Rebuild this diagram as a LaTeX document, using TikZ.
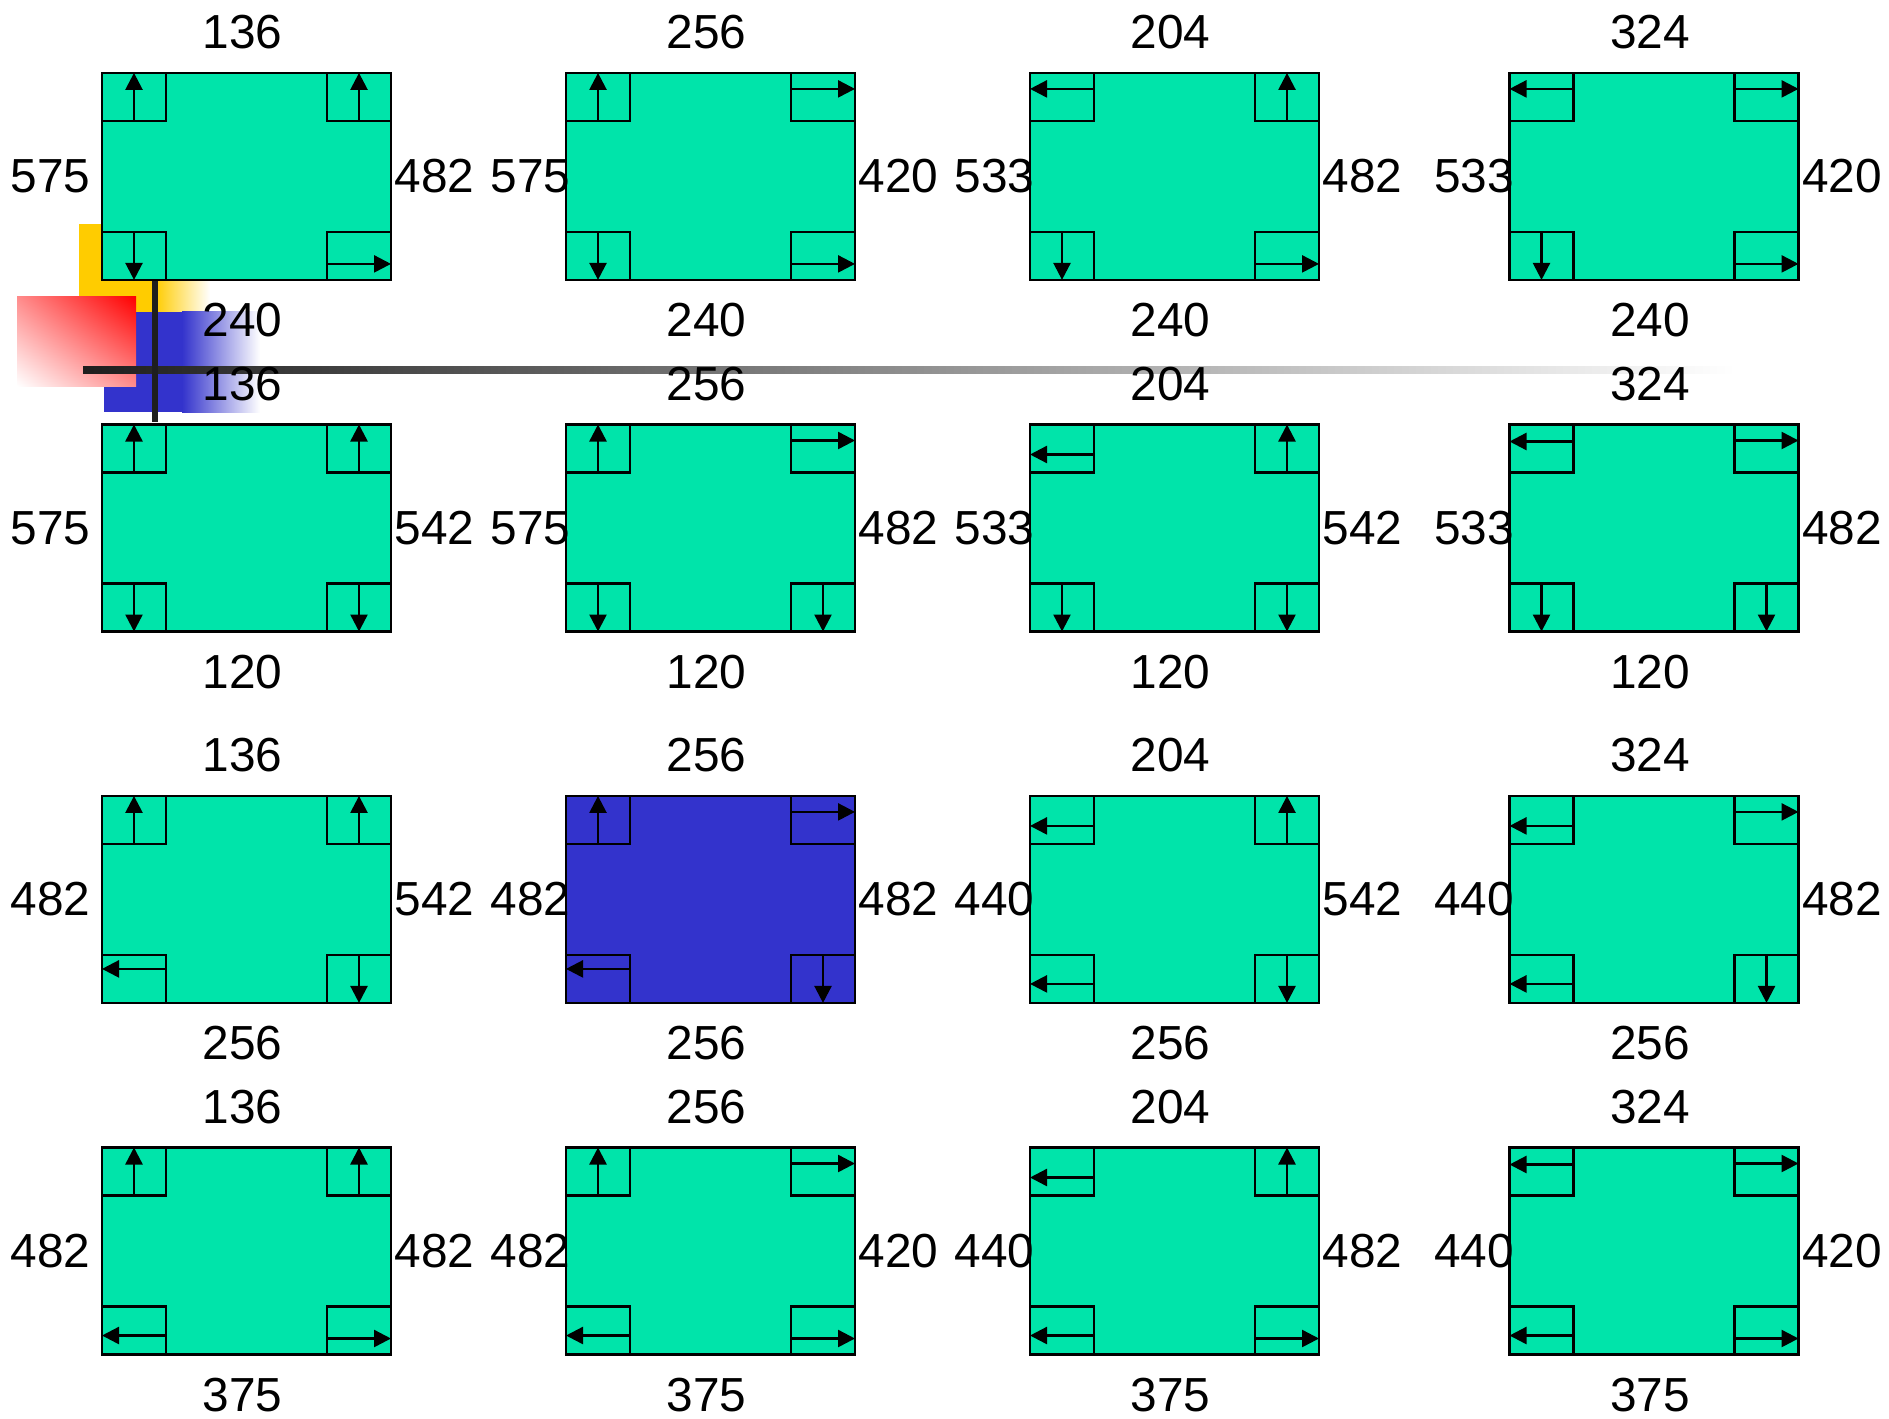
\documentclass[tikz,border=0pt]{standalone}
\usepackage{fontspec}
\setmainfont{Liberation Sans}
\usepackage{tikz}
\usetikzlibrary{positioning, arrows.meta, calc, shadings}

\definecolor{tilegreen}{RGB}{0,228,170}
\definecolor{tileblue}{RGB}{51,51,204}
\definecolor{barshade}{RGB}{30,30,30}
\definecolor{decoyellow}{RGB}{255,204,0}

\begin{document}
\begin{tikzpicture}[x=1cm, y=-1cm,
  tile/.style={draw=black, line width=0.7pt, minimum width=2.89cm, minimum height=2.07cm, inner sep=0pt, outer sep=0pt},
  cornerbox/.style={draw=black, line width=0.7pt},
  tip/.style={line width=0.7pt, -{Triangle[length=0.17cm, width=0.17cm]}},
  lbl/.style={font=\fontsize{13.6}{16}\selectfont, inner sep=0pt}]
  \useasboundingbox (0,0) rectangle (18.89,14.18);
  %% Slide decoration in the top left corner
  \fill[decoyellow] (0.79,2.24) rectangle (1.55,3.12);
  \shade[left color=decoyellow, right color=white] (1.55,2.24) rectangle (2.10,3.12);
  \fill[tileblue] (1.04,3.12) rectangle (1.82,4.12);
  \shade[left color=tileblue, right color=white] (1.82,3.12) rectangle (2.60,4.12);
  \shade[upper right=red, lower left=white, upper left=red!45, lower right=red!45] (0.17,2.97) rectangle (1.36,3.86);
  \shade[left color=barshade, right color=white] (0.83,3.665) rectangle (17.35,3.735);
  \fill[barshade] (1.517,2.40) rectangle (1.577,4.22);
  %% Tiles: row/col/top/left/right/bottom/top-left arrow depth/bottom-left arrow height
  \foreach \row/\col/\tp/\lf/\rt/\bt/\ta/\ba in {
      1/1/136/575/482/240/0.16/0.19, 1/2/256/575/420/240/0.16/0.19,
      1/3/204/533/482/240/0.16/0.19, 1/4/324/533/420/240/0.16/0.19,
      2/1/136/575/542/120/0.16/0.19, 2/2/256/575/482/120/0.16/0.19,
      2/3/204/533/542/120/0.30/0.19, 2/4/324/533/482/120/0.17/0.19,
      3/1/136/482/542/256/0.16/0.34, 3/2/256/482/482/256/0.16/0.34,
      3/3/204/440/542/256/0.30/0.19, 3/4/324/440/482/256/0.30/0.19,
      4/1/136/482/482/375/0.16/0.19, 4/2/256/482/420/375/0.16/0.19,
      4/3/204/440/482/375/0.30/0.19, 4/4/324/440/420/375/0.17/0.19}{
    \pgfmathsetmacro\tx{{2.465,7.105,11.745,16.54}[\col-1]}
    \pgfmathsetmacro\ty{{1.764,5.28,8.994,12.51}[\row-1]}
    \pgfmathtruncatemacro\brd{and(\row>1,\row<4)}
    \ifnum\row\col=32 \def\tcol{tileblue}\else\def\tcol{tilegreen}\fi
    \ifnum\col=1 \def\lsh{-0.11}\else\def\lsh{0.05}\fi
    \node[tile, fill=\tcol] (t\row\col) at (\tx,\ty) {};
    %% corner boxes
    \draw[cornerbox] (t\row\col.north west) rectangle ++(0.64,0.48);
    \draw[cornerbox] (t\row\col.north east) rectangle ++(-0.64,0.48);
    \draw[cornerbox] (t\row\col.south west) rectangle ++(0.64,-0.48);
    \draw[cornerbox] (t\row\col.south east) rectangle ++(-0.64,-0.48);
    %% arrows in the corners
    \ifnum\col<3
      \draw[tip] ([shift={(0.32,0.48)}]t\row\col.north west) -- ++(0,-0.48);
    \else
      \draw[tip] ([shift={(0.64,\ta)}]t\row\col.north west) -- ++(-0.64,0);
    \fi
    \ifodd\col
      \draw[tip] ([shift={(-0.32,0.48)}]t\row\col.north east) -- ++(0,-0.48);
    \else
      \draw[tip] ([shift={(-0.64,0.16)}]t\row\col.north east) -- ++(0.64,0);
    \fi
    \ifnum\row<3
      \draw[tip] ([shift={(0.32,-0.48)}]t\row\col.south west) -- ++(0,0.48);
    \else
      \draw[tip] ([shift={(0.64,-\ba)}]t\row\col.south west) -- ++(-0.64,0);
    \fi
    \ifnum\brd=1
      \draw[tip] ([shift={(-0.32,-0.48)}]t\row\col.south east) -- ++(0,0.48);
    \else
      \draw[tip] ([shift={(-0.64,-0.16)}]t\row\col.south east) -- ++(0.64,0);
    \fi
    %% numbers round the tile
    \node[lbl, above=0.23cm of t\row\col, xshift=-0.04cm] (tp\row\col) {\tp};
    \node[lbl, below=0.225cm of t\row\col, xshift=-0.04cm] (bt\row\col) {\bt};
    \node[lbl, anchor=east, xshift=\lsh cm] (lf\row\col) at (t\row\col.west) {\lf};
    \node[lbl, anchor=west, xshift=0.03cm] (rt\row\col) at (t\row\col.east) {\rt};
  }
\end{tikzpicture}
\end{document}
